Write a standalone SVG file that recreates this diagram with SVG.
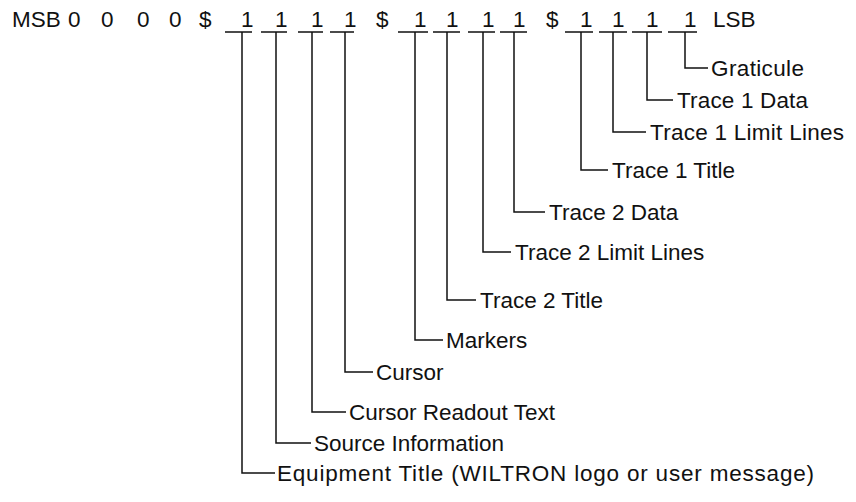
<svg xmlns="http://www.w3.org/2000/svg" width="856" height="502" viewBox="0 0 856 502">
<style>
text{font-family:"Liberation Sans",Arial,Helvetica,sans-serif;font-size:22.5px;fill:#111}
.ln{fill:none;stroke:#111;stroke-width:1.5}
</style>
<rect width="856" height="502" fill="#fff"/>
<g id="register">
<text x="12" y="27">MSB</text>
<text x="68" y="27">0</text>
<text x="101" y="27">0</text>
<text x="137" y="27">0</text>
<text x="169" y="27">0</text>
<text x="199" y="27">$</text>
<text x="241" y="27">1</text>
<text x="275" y="27">1</text>
<text x="311" y="27">1</text>
<text x="344" y="27">1</text>
<text x="376" y="27">$</text>
<text x="414" y="27">1</text>
<text x="446" y="27">1</text>
<text x="482" y="27">1</text>
<text x="513" y="27">1</text>
<text x="546" y="27">$</text>
<text x="580" y="27">1</text>
<text x="612" y="27">1</text>
<text x="646" y="27">1</text>
<text x="684" y="27">1</text>
<text x="713" y="27">LSB</text>
<path class="ln" d="M225 32H252M261 32H287M298 32H323M330 32H354M398 32H428M433 32H460M468 32H495M500 32H527M565 32H593M599 32H627M632 32H662M668 32H697"/>
</g>
<g id="connectors">
<path class="ln" d="M685 32V68H708"/>
<path class="ln" d="M647 32V100H673"/>
<path class="ln" d="M613 32V132H646"/>
<path class="ln" d="M581 32V170H608"/>
<path class="ln" d="M514 32V212H545"/>
<path class="ln" d="M483 32V252H511"/>
<path class="ln" d="M447 32V300H476"/>
<path class="ln" d="M415 32V340H443"/>
<path class="ln" d="M345 32V372H373"/>
<path class="ln" d="M312 32V412H346"/>
<path class="ln" d="M276 32V443H311"/>
<path class="ln" d="M242 32V473H275"/>
</g>
<g id="graticule"><text x="711" y="76" textLength="93">Graticule</text></g>
<g id="trace1-data"><text x="677" y="108" textLength="131">Trace 1 Data</text></g>
<g id="trace1-limit-lines"><text x="650" y="140" textLength="194">Trace 1 Limit Lines</text></g>
<g id="trace1-title"><text x="612" y="178">Trace 1 Title</text></g>
<g id="trace2-data"><text x="549" y="220">Trace 2 Data</text></g>
<g id="trace2-limit-lines"><text x="515" y="260">Trace 2 Limit Lines</text></g>
<g id="trace2-title"><text x="480" y="308">Trace 2 Title</text></g>
<g id="markers"><text x="446" y="348">Markers</text></g>
<g id="cursor"><text x="376" y="380">Cursor</text></g>
<g id="cursor-readout-text"><text x="349" y="420">Cursor Readout Text</text></g>
<g id="source-information"><text x="314" y="451">Source Information</text></g>
<g id="equipment-title"><text x="277" y="481" textLength="537">Equipment Title (WILTRON logo or user message)</text></g>
</svg>
